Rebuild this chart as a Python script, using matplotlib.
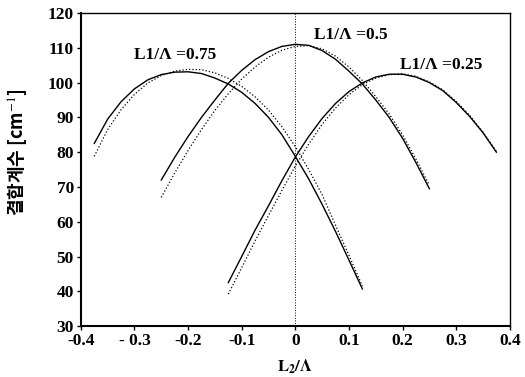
import numpy as np
import matplotlib
matplotlib.use('Agg')
import matplotlib.pyplot as plt

plt.rcParams['mathtext.fontset'] = 'stix'

# L1/Lambda = 0.75
x_075 = [-0.375, -0.35, -0.325, -0.3, -0.275, -0.25, -0.225, -0.2, -0.175, -0.15, -0.125,
         -0.1, -0.075, -0.05, -0.025, 0.0, 0.025, 0.05, 0.075, 0.1, 0.125]
y_075 = [82.5, 89.5, 94.5, 98.2, 100.8, 102.3, 103.0, 103.1, 102.6, 101.3, 99.6,
         97.2, 94.0, 90.0, 85.0, 78.8, 72.3, 65.0, 57.2, 49.0, 40.7]
y_075_dot = [78.8, 86.5, 92.2, 96.6, 99.9, 102.0, 103.3, 103.8, 103.7, 102.8, 101.2,
             98.9, 95.9, 92.1, 87.3, 81.6, 75.0, 67.8, 59.0, 50.4, 41.5]

# L1/Lambda = 0.5
x_05 = [-0.25, -0.225, -0.2, -0.175, -0.15, -0.125, -0.1, -0.075, -0.05, -0.025, 0.0,
        0.025, 0.05, 0.075, 0.1, 0.125, 0.15, 0.175, 0.2, 0.225, 0.25]
y_05 = [72.0, 78.5, 84.5, 90.0, 95.0, 99.8, 103.5, 106.6, 108.9, 110.4, 111.0,
        110.7, 109.2, 106.7, 103.3, 99.6, 95.0, 90.0, 84.0, 77.0, 69.5]
y_05_dot = [67.0, 74.0, 80.5, 86.5, 92.0, 96.8, 101.0, 104.5, 107.3, 109.3, 110.4,
            110.6, 109.7, 107.6, 104.5, 100.6, 96.0, 91.0, 85.0, 78.0, 70.5]

# L1/Lambda = 0.25
x_025 = [-0.125, -0.1, -0.075, -0.05, -0.025, 0.0, 0.025, 0.05, 0.075, 0.1, 0.125,
         0.15, 0.175, 0.2, 0.225, 0.25, 0.275, 0.3, 0.325, 0.35, 0.375]
y_025 = [42.5, 50.0, 57.6, 64.6, 71.8, 78.6, 84.5, 89.7, 94.0, 97.4, 99.9,
         101.6, 102.4, 102.4, 101.6, 100.0, 97.7, 94.3, 90.3, 85.6, 80.0]
y_025_dot = [39.2, 46.8, 54.5, 61.8, 69.0, 76.0, 82.3, 88.0, 92.7, 96.5, 99.4,
             101.3, 102.3, 102.5, 101.8, 100.2, 97.9, 94.6, 90.6, 85.8, 80.2]

xticks = [-0.4, -0.3, -0.2, -0.1, 0.0, 0.1, 0.2, 0.3, 0.4]
xtick_labels = ['-0.4', '- 0.3', '-0.2', '-0.1', '0', '0.1', '0.2', '0.3', '0.4']
yticks = [30, 40, 50, 60, 70, 80, 90, 100, 110, 120]

serif = 'Liberation Serif'

fig = plt.figure(figsize=(5.25, 3.77), dpi=100)
ax = fig.add_axes([0.154, 0.135, 0.817, 0.8305])

ax.axvline(0, color='black', linestyle=':', linewidth=0.7)

for xs, ys, yd in [(x_075, y_075, y_075_dot), (x_05, y_05, y_05_dot), (x_025, y_025, y_025_dot)]:
    ax.plot(xs, ys, color='black', linewidth=1.0)
    ax.plot(xs, yd, color='black', linestyle=':', linewidth=0.9)

ax.text(-0.225, 107.9, 'L1/Λ =0.75', fontsize=12.5, fontweight='bold', family=serif, ha='center', va='center')
ax.text(0.104, 113.7, 'L1/Λ =0.5', fontsize=12.5, fontweight='bold', family=serif, ha='center', va='center')
ax.text(0.272, 105.0, 'L1/Λ =0.25', fontsize=12.5, fontweight='bold', family=serif, ha='center', va='center')

ax.set_xlim(-0.4, 0.4)
ax.set_ylim(30, 120)
ax.set_xticks(xticks)
ax.set_xticklabels(xtick_labels)
ax.set_yticks(yticks)
for lab in ax.get_xticklabels() + ax.get_yticklabels():
    lab.set_family(serif)
    lab.set_fontweight('bold')
    lab.set_fontsize(12.5)
ax.tick_params(direction='out', length=3, width=1.0, pad=2)
ax.tick_params(top=False, right=False)

ax.spines['left'].set_linewidth(1.5)
ax.spines['bottom'].set_linewidth(1.5)
ax.spines['top'].set_linewidth(1.0)
ax.spines['right'].set_linewidth(1.0)

ax.set_xlabel(r'$\mathbf{L_2/\Lambda}$', fontsize=12)
ax.xaxis.set_label_coords(0.5, -0.1)
ax.set_ylabel('결합계수 [cm$^{-1}$]', fontsize=13, fontweight='bold',
              family=['Noto Sans CJK KR', 'DejaVu Sans'])
ax.yaxis.set_label_coords(-0.121, 0.556)

fig.savefig('out.png', dpi=100)
